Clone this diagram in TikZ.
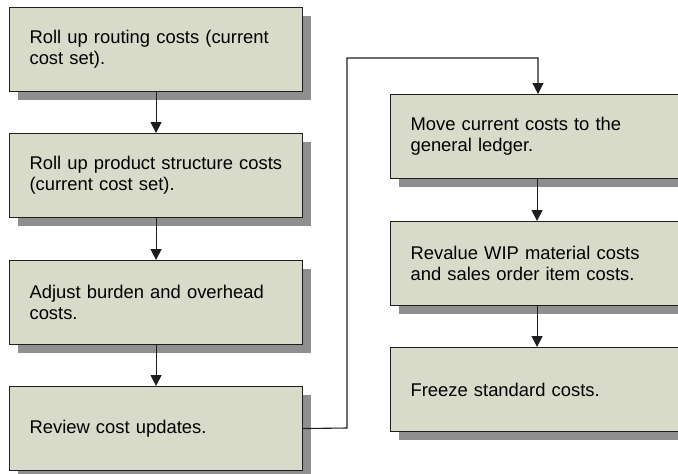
\documentclass[tikz,border=0pt]{standalone}
\usepackage{fontspec}
\setmainfont{Liberation Sans}
\usetikzlibrary{arrows.meta,shadows}
\definecolor{boxfill}{RGB}{216,218,202}
\definecolor{shadowgray}{RGB}{143,143,143}
\definecolor{edgecol}{RGB}{30,30,30}
\tikzset{
  stepbox/.style={draw=edgecol, line width=1.1pt, fill=boxfill, rectangle,
    anchor=north west, minimum width=293pt, minimum height=84pt,
    text width=253pt, inner xsep=20pt, inner ysep=0pt, align=left,
    font=\fontsize{18.4pt}{21pt}\selectfont,
    drop shadow={shadow xshift=8pt, shadow yshift=-8pt, fill=shadowgray, opacity=1}},
  arr/.style={draw=edgecol, line width=1.1pt, -{Triangle[width=11pt,length=11pt]}}
}
\begin{document}
\begin{tikzpicture}[x=1pt,y=1pt]
\clip (0,0) rectangle (678,-474);
\useasboundingbox (0,0) rectangle (678,-474);
\node[stepbox] (b1) at (9,-7) {\mbox{Roll up routing costs (current}\\cost set).};
\node[stepbox] (b2) at (9,-133) {\mbox{Roll up product structure costs}\\(current cost set).};
\node[stepbox] (b3) at (9,-260) {\mbox{Adjust burden and overhead}\\costs.};
\node[stepbox] (b4) at (9,-386) {Review cost updates.};
\node[stepbox] (b5) at (390,-94) {\mbox{Move current costs to the}\\general ledger.};
\node[stepbox] (b6) at (390,-221) {\mbox{Revalue WIP material costs}\\\mbox{and sales order item costs.}};
\node[stepbox] (b7) at (390,-347) {Freeze standard costs.};
\draw[arr] (b1) -- (b2);
\draw[arr] (b2) -- (b3);
\draw[arr] (b3) -- (b4);
\draw[arr] (b5) -- (b6);
\draw[arr] (b6) -- (b7);
\coordinate (c1) at (347,-428);
\coordinate (c2) at (538,-58);
\draw[arr] (b4.east) -- (c1) |- (c2) -- (c2 |- b5.north);
\end{tikzpicture}
\end{document}
